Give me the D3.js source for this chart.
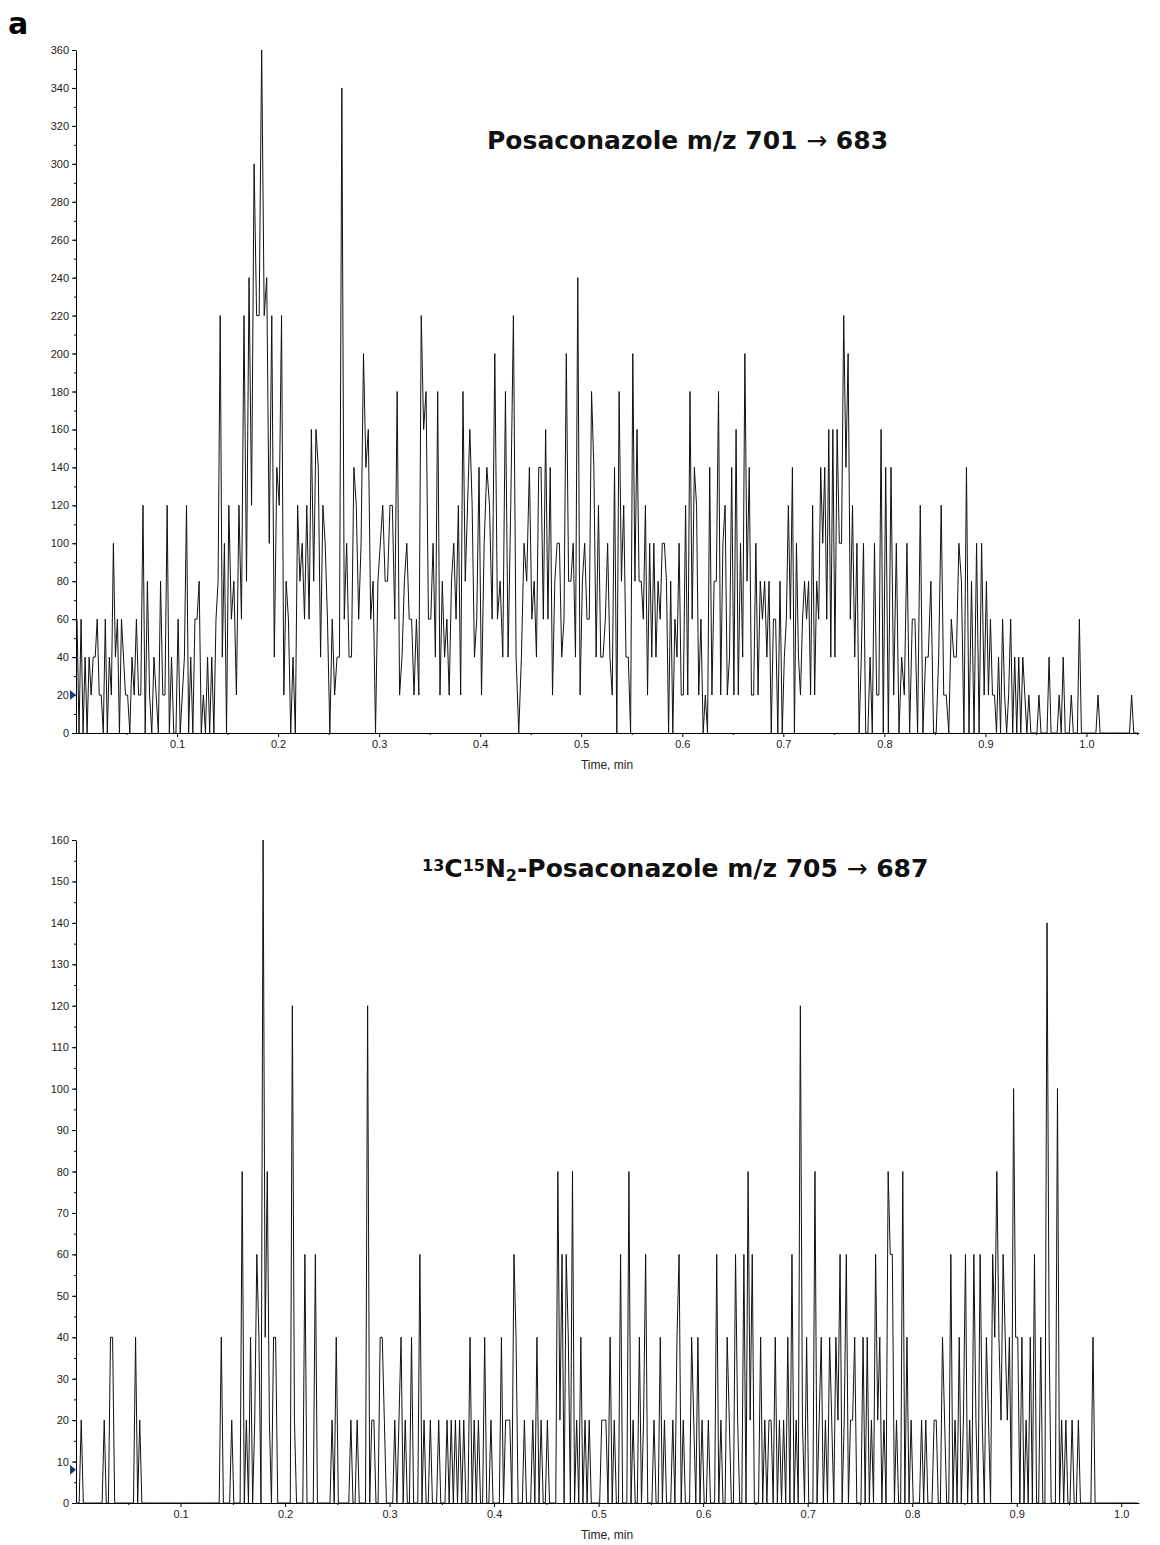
<!DOCTYPE html>
<html>
<head>
<meta charset="utf-8">
<script src="https://cdn.jsdelivr.net/npm/d3@7"></script>
<style>
  body { margin: 0; background: #fff; }
  svg { display: block; }
  .tick text { font-family: "Liberation Sans", Arial, sans-serif; font-size: 11px; fill: #222; }
  .domain, .tick line { stroke: #000; }
</style>
</head>
<body>
<div id="chart"></div>
<script>
// x tick labels (min)
const timeTicks = [0.1, 0.2, 0.3, 0.4, 0.5, 0.6, 0.7, 0.8, 0.9, 1.0];

// top trace: analyte, counts per 0.05 min window
const topEdges = [0, 0.05, 0.10, 0.15, 0.20, 0.25, 0.30, 0.35, 0.40, 0.45, 0.50,
  0.55, 0.60, 0.65, 0.70, 0.75, 0.80, 0.85, 0.90, 0.95, 1.00, 1.052];
const topCounts = [
  [60,0,60,0,40,0,40,20,40,40,60,20,20,0,60,0,40,20,100,40,60,0,60,40,20],
  [20,0,40,20,60,20,20,120,0,80,20,0,40,20,0,80,20,20,120,0,40,0,0],
  [60,0,20,40,120,0,40,0,60,60,80,0,20,0,40,0,40,0,60,80,220,40,100,0],
  [120,60,80,20,120,60,220,80,240,120,300,220,220,360,220,240,100,220,40,140],
  [120,220,20,80,60,0,40,0,120,80,100,60,120,60,160,80,160,140,40,120,100,60],
  [0,60,20,40,40,340,60,100,40,40,140,120,60,100,200,140,160,60,80,0,80],
  [100,120,80,80,120,120,60,180,20,40,80,100,60,60,20,60,20,220,160,180,60],
  [60,100,40,180,20,80,40,60,20,80,100,60,120,20,180,80,120,160,120,40,60,140],
  [20,100,140,120,60,200,60,80,40,180,40,120,220,40,0,40,100,80,140],
  [60,80,40,140,140,60,160,60,140,20,80,100,100,40,60,200,80,80,100,40,240,20],
  [80,100,60,60,180,140,40,120,40,40,60,100,40,20,140,0,180,80,120,40,40,0],
  [200,80,160,80,80,60,120,20,100,40,100,40,80,60,100,100,80,0,80,0,60,40,100,20],
  [20,120,20,180,60,140,120,20,60,0,20,0,140,20,80,80,180,20,100,120,20,40,140],
  [20,160,20,100,40,200,80,140,20,20,100,20,80,60,80,40,80,0,60,60,0,80,0],
  [40,60,120,60,140,0,100,40,20,60,80,60,80,20,120,20,80,60,140,100,140,60,160,40,160],
  [40,160,100,100,220,140,200,60,120,40,100,0,40,100,0,0,40,0,100,20,20,160,0],
  [140,0,140,20,100,0,40,20,100,0,60,60,0,120,0,40,40,80,0],
  [0,40,120,20,20,0,60,40,40,100,80,0,140,0,80,0,100,0,100,20],
  [80,20,60,20,20,0,40,0,60,20,0,20,60,0,40,0,40,0,40,20,0,20,0,0,0],
  [0,20,0,0,0,0,40,0,0,0,0,20,0,40,0,0,0,20,0,0,0,60,0,0,0],
  [0,0,0,0,0,20,0,0,0,0,0,0,0,0,0,0,0,0,0,0,0,20,0,0,0]
];

// bottom trace: internal standard, counts per 0.05 min window
const botEdges = [0, 0.05, 0.10, 0.15, 0.20, 0.25, 0.30, 0.35, 0.40, 0.45, 0.50,
  0.55, 0.60, 0.65, 0.70, 0.75, 0.80, 0.85, 0.90, 0.95, 1.00, 1.017];
const botCounts = [
  [0,0,20,0,0,0,0,0,0,0,0,0,0,20,0,0,40,40,0,0,0,0,0,0,0],
  [0,0,0,40,0,20,0,0,0,0,0,0,0,0,0,0,0,0,0,0,0,0,0,0,0],
  [0,0,0,0,0,0,0,0,0,0,0,0,0,0,0,0,0,0,0,40,0,0,0,0,20],
  [0,0,0,0,80,0,20,0,40,0,20,60,40,0,160,40,80,20,0,40,40,0,0,0,0],
  [0,0,0,120,20,0,0,0,0,60,0,0,0,0,60,0,0,0,0,0,0,0,20,0,40],
  [0,0,0,0,0,0,20,0,0,20,0,0,0,0,120,0,20,20,0,0,40,40,20,0,0],
  [0,0,20,0,20,40,0,20,0,0,40,0,0,0,60,0,20,0,0,20,0,0,0,20,0],
  [0,0,20,0,20,0,20,0,20,0,20,0,0,40,0,20,0,20,0,0,40,0,0,20,0],
  [0,0,0,40,0,20,20,20,0,60,40,0,0,0,20,0,0,0,20,0,40,0,20,0,0],
  [20,0,0,0,0,80,20,60,0,60,40,0,80,0,20,0,40,0,20,0,20,0,0,0,0],
  [0,20,20,20,0,40,0,20,0,0,60,0,0,0,80,0,20,0,0,40,0,20,60,0,0],
  [0,20,0,0,40,0,20,0,0,0,20,0,40,60,0,20,0,0,0,40,20,0,40,0,20],
  [0,0,20,0,0,0,60,0,20,0,0,40,20,0,0,60,20,0,0,60,0,80,20,60,0],
  [0,0,40,0,20,0,20,20,0,40,0,20,0,20,0,40,0,60,0,20,0,120,20,0,40],
  [0,0,0,80,0,20,40,0,20,0,40,20,0,40,20,60,0,20,60,0,20,20,40,0,0],
  [0,40,0,40,0,20,0,60,20,40,0,20,0,80,60,60,0,20,0,0,80,0,40,0,20],
  [0,0,0,0,20,0,20,0,0,0,20,20,0,0,40,20,0,0,60,0,20,0,40,0,20],
  [60,0,20,0,60,20,0,60,20,0,40,20,0,60,40,80,40,20,60,40,20,40,0,100,40],
  [40,0,40,0,20,0,40,0,60,0,0,40,0,0,140,40,0,0,0,100,0,20,0,20,0],
  [0,20,0,0,20,0,0,0,0,0,0,40,0,0,0,0,0,0,0,0,0,0,0,0,0],
  [0,0,0,0,0,0,0,0,0]
];

const W = 1160, H = 1545;
const svg = d3.select('#chart').append('svg').attr('width', W).attr('height', H);

// panel letter
svg.append('text')
  .attr('x', 8).attr('y', 34)
  .style('font-family', '"DejaVu Sans", Verdana, sans-serif')
  .style('font-weight', 'bold').style('font-size', '30px')
  .text('a');

// spread each window's samples evenly over its time span
function expand(edges, windows) {
  const pts = [];
  windows.forEach((vals, k) => {
    const a = edges[k], step = (edges[k + 1] - a) / vals.length;
    vals.forEach((v, i) => pts.push({ t: a + (i + 0.5) * step, v: v }));
  });
  return pts;
}

function drawPanel(p) {
  const x = d3.scaleLinear().domain([0, p.tEnd]).range([76, 1139]);
  const y = d3.scaleLinear().domain([0, p.yMax]).range([p.bottom, p.top]);
  const g = svg.append('g');

  // minor ticks first, majors with labels on top
  g.append('g')
    .attr('transform', `translate(76,0)`)
    .call(d3.axisLeft(y).tickValues(d3.range(0, p.yMax + 0.1, p.yMinor)).tickSize(2).tickFormat(''))
    .call(a => a.select('.domain').remove());
  g.append('g')
    .attr('transform', `translate(76,0)`)
    .call(d3.axisLeft(y).tickValues(d3.range(0, p.yMax + 0.1, p.yMajor)).tickSize(4).tickPadding(3).tickSizeOuter(0));

  const minorX = d3.range(0.05, p.tEnd, 0.1);
  g.append('g')
    .attr('transform', `translate(0,${p.bottom})`)
    .call(d3.axisBottom(x).tickValues(minorX).tickSize(2).tickFormat(''))
    .call(a => a.select('.domain').remove());
  g.append('g')
    .attr('transform', `translate(0,${p.bottom})`)
    .call(d3.axisBottom(x).tickValues(timeTicks).tickSize(4).tickPadding(3).tickSizeOuter(0).tickFormat(d3.format('.1f')));

  g.append('text')
    .attr('x', 607).attr('y', p.bottom + 36)
    .attr('text-anchor', 'middle')
    .style('font-family', '"Liberation Sans", Arial, sans-serif')
    .style('font-size', '12px').style('fill', '#222')
    .text('Time, min');

  // trace
  const line = d3.line().x(d => x(d.t)).y(d => y(d.v));
  g.append('path')
    .datum(expand(p.edges, p.counts))
    .attr('d', line)
    .attr('fill', 'none')
    .attr('stroke', '#111')
    .attr('stroke-width', 1)
    .attr('stroke-linejoin', 'miter');

  // baseline marker on the y axis
  const my = y(p.marker);
  g.append('path')
    .attr('d', `M70,${my - 5}L76,${my}L70,${my + 5}Z`)
    .attr('fill', '#1d3b72');

  // title
  const title = g.append('text')
    .attr('x', p.titleX).attr('y', p.titleY)
    .style('font-family', '"DejaVu Sans", Verdana, sans-serif')
    .style('font-weight', 'bold').style('font-size', '25px').style('fill', '#111');
  p.title.forEach(part => {
    const ts = title.append('tspan').text(part.s);
    if (part.sup) ts.attr('baseline-shift', '40%').style('font-size', '16px');
    if (part.sub) ts.attr('baseline-shift', '-22%').style('font-size', '16px');
    if (part.thin) ts.style('font-weight', 'normal');
  });
}

drawPanel({
  top: 50, bottom: 733, tEnd: 1.052, yMax: 360, yMajor: 20, yMinor: 10,
  edges: topEdges, counts: topCounts, marker: 20,
  titleX: 487, titleY: 149,
  title: [{ s: 'Posaconazole m/z 701 ' }, { s: '\u2192', thin: true }, { s: ' 683' }]
});

drawPanel({
  top: 840, bottom: 1503, tEnd: 1.017, yMax: 160, yMajor: 10, yMinor: 5,
  edges: botEdges, counts: botCounts, marker: 8,
  titleX: 422, titleY: 877,
  title: [{ s: '13', sup: true }, { s: 'C' }, { s: '15', sup: true }, { s: 'N' },
          { s: '2', sub: true }, { s: '-Posaconazole m/z 705 ' }, { s: '\u2192', thin: true }, { s: ' 687' }]
});
</script>
</body>
</html>
